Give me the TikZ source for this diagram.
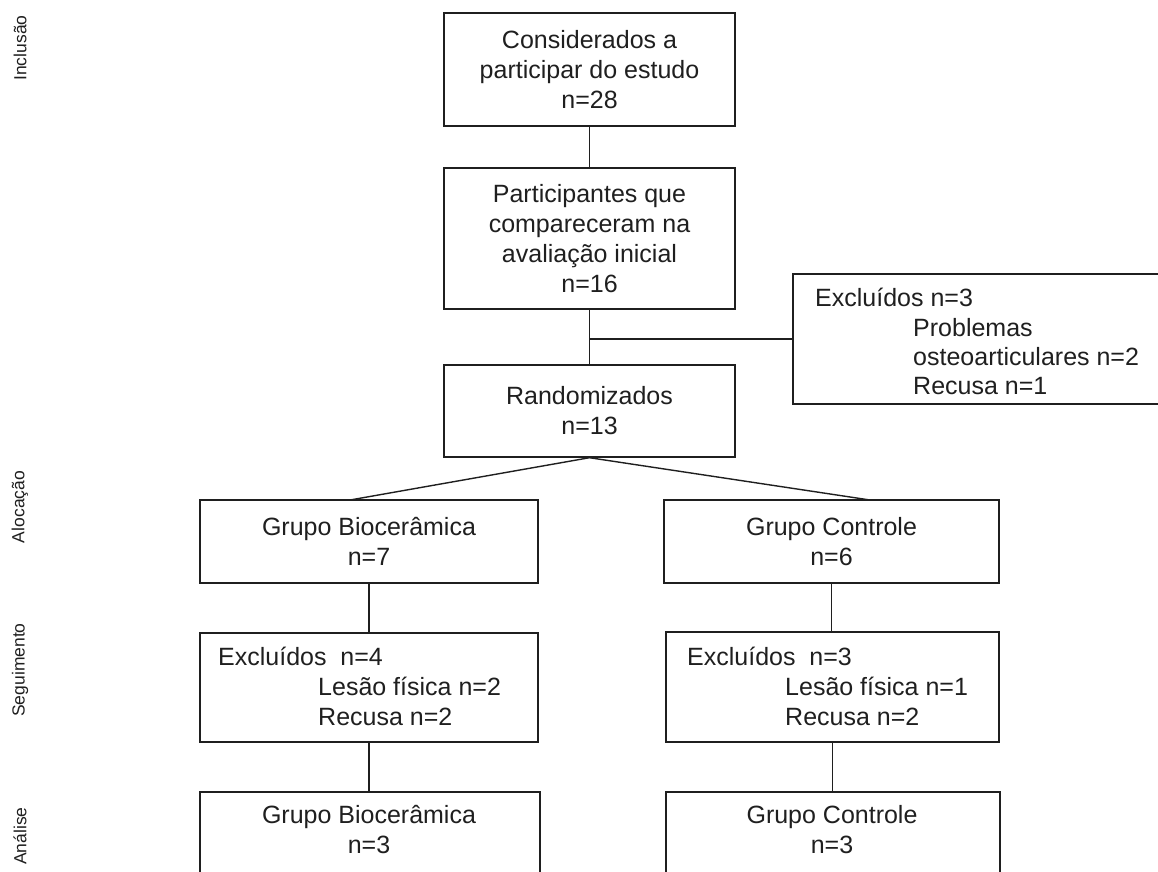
\documentclass[tikz,border=0pt]{standalone}
\usepackage{fontspec}
\setmainfont{Liberation Sans}
\begin{document}
\begin{tikzpicture}[x=1pt,y=-1pt,
  box/.style={draw=black!88, line width=1.4pt, rectangle, inner sep=0pt, align=center,
    font=\fontsize{25}{30}\selectfont, text=black!88},
  txt/.style={inner sep=0pt, anchor=base west, font=\fontsize{25}{30}\selectfont, text=black!88},
  ctxt/.style={inner sep=0pt, align=center, font=\fontsize{25}{30}\selectfont, text=black!88},
  side/.style={inner sep=0pt, rotate=90, font=\fontsize{17.5}{20}\selectfont, text=black!88},
  link/.style={draw=black!88, line width=1.4pt}]
\useasboundingbox (0,0) rectangle (1158,871);
\clip (0,0) rectangle (1158,871);
% side labels
\node[side] (lInc) at (20,48) {Inclusão};
\node[side] (lAlo) at (20,507) {Alocação};
\node[side] (lSeg) at (20,670) {Seguimento};
\node[side] (lAna) at (20,836) {Análise};
% main column
\node[box, minimum width=291pt, minimum height=113pt] (b1) at (589.5,69.5)
  {Considerados a\\participar do estudo\\n=28};
\node[box, minimum width=291pt, minimum height=141pt] (b2) at (589.5,238.5)
  {Participantes que\\compareceram na\\avaliação inicial\\n=16};
\node[box, minimum width=291pt, minimum height=92pt] (b3) at (589.5,411)
  {Randomizados\\n=13};
% exclusion box
\node[box, minimum width=407pt, minimum height=130pt] (ex) at (996.5,339) {};
\node[txt] (ex1) at (815,306) {Excluídos n=3};
\node[txt] (ex2) at (913,336) {Problemas};
\node[txt] (ex3) at (913,365) {osteoarticulares n=2};
\node[txt] (ex4) at (913,394) {Recusa n=1};
% allocation
\node[box, minimum width=338pt, minimum height=83pt] (gb) at (369,541.5)
  {Grupo Biocerâmica\\n=7};
\node[box, minimum width=335pt, minimum height=83pt] (gc) at (831.5,541.5)
  {Grupo Controle\\n=6};
% follow-up
\node[box, minimum width=338pt, minimum height=109pt] (sl) at (369,687.5) {};
\node[txt] (sl1) at (218,665) {Excluídos~~n=4};
\node[txt] (sl2) at (318,695) {Lesão física n=2};
\node[txt] (sl3) at (318,725) {Recusa n=2};
\node[box, minimum width=333pt, minimum height=110pt] (sr) at (832.5,687) {};
\node[txt] (sr1) at (687,665) {Excluídos~~n=3};
\node[txt] (sr2) at (785,695) {Lesão física n=1};
\node[txt] (sr3) at (785,725) {Recusa n=2};
% analysis
\node[box, minimum width=340pt, minimum height=128pt] (al) at (370,856) {};
\node[ctxt] (alt) at (369,830) {Grupo Biocerâmica\\n=3};
\node[box, minimum width=334pt, minimum height=128pt] (ar) at (833,856) {};
\node[ctxt] (art) at (832,830) {Grupo Controle\\n=3};
% connectors
\coordinate (fl) at (350,500);
\coordinate (fr) at (870,500);
\draw[link] (b1.south) -- (b2.north);
\draw[link] (b2.south) -- (b3.north);
\draw[link] (b2.south |- ex.west) -- (ex.west);
\draw[link] (b3.south) -- (fl);
\draw[link] (b3.south) -- (fr);
\draw[link] (gb.south) -- (sl.north);
\draw[link] (gc.south) -- (gc.south |- sr.north);
\draw[link] (sl.south) -- (sl.south |- al.north);
\draw[link] (sr.south) -- (sr.south |- ar.north);
\end{tikzpicture}
\end{document}
